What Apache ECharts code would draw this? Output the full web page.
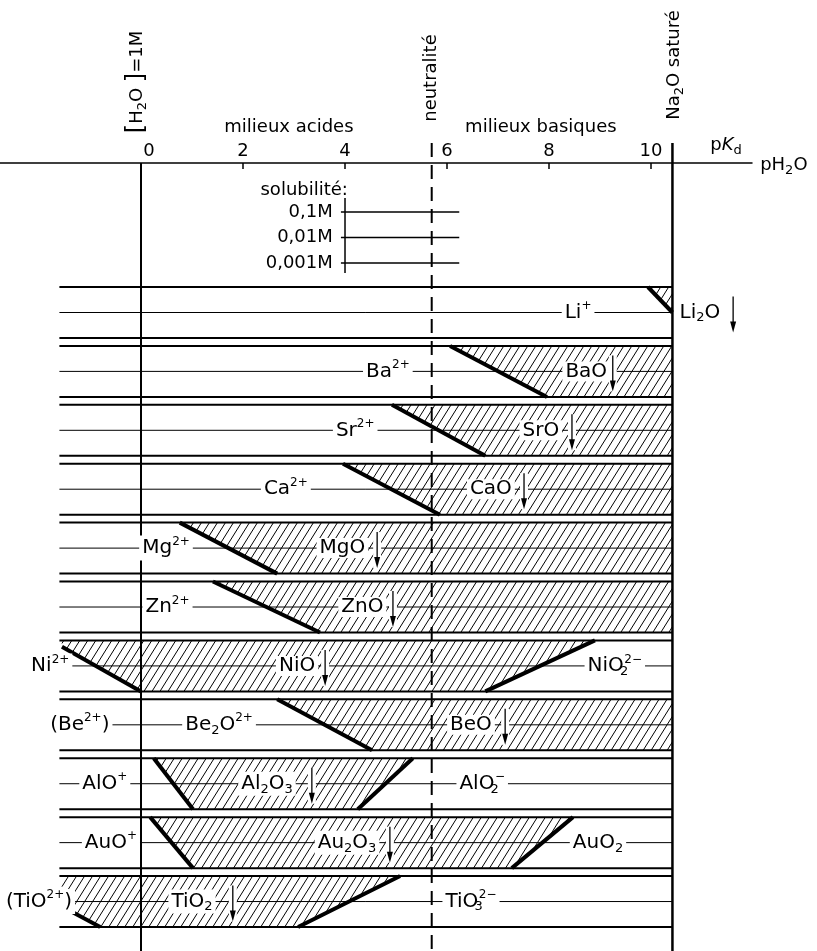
<!DOCTYPE html>
<html><head><meta charset="utf-8">
<script src="https://cdn.jsdelivr.net/npm/echarts@6/dist/echarts.min.js"></script>
<style>html,body{margin:0;padding:0;background:#fff}#c{width:817px;height:951px}</style>
</head><body><div id="c"></div>
<script>
// ---------------- data ----------------
const pHTicks = [0, 2, 4, 6, 8, 10];
const neutralityPH = 5.7;
const na2oSaturePH = 10.42;
const bandSpecies = ['Li', 'Ba', 'Sr', 'Ca', 'Mg', 'Zn', 'Ni', 'Be', 'Al', 'Au', 'Ti'];
// pH of acid-side precipitation boundary at 0.1 M (pC=1) and 0.001 M (pC=3)
const acidBoundary = [[9.94, 10.90], [6.06, 7.96], [4.92, 6.75], [3.96, 5.86], [0.76, 2.67], [1.41, 3.51],
  [-1.77, 0.0], [2.67, 4.53], [0.25, 1.02], [0.18, 1.02], [-2.66, -0.80]];
// pH of basic-side redissolution boundary at pC=1 and pC=3 (null = none)
const basicBoundary = [null, null, null, null, null, null, [8.90, 6.75], null, [5.33, 4.25], [8.47, 7.27], [5.08, 3.08]];
const solubilityLevels = ['0,1M', '0,01M', '0,001M'];
const keyRangePH = [4, 6.24];
// species labels: [band, pH centre, text]
const speciesLabels = [
  [0, 8.57, 'Li{sup|+}'], [0, 10.96, 'Li{sub|2}O'],
  [1, 4.84, 'Ba{sup|2+}'], [1, 8.73, 'BaO'],
  [2, 4.20, 'Sr{sup|2+}'], [2, 7.84, 'SrO'],
  [3, 2.84, 'Ca{sup|2+}'], [3, 6.86, 'CaO'],
  [4, 0.49, 'Mg{sup|2+}'], [4, 3.95, 'MgO'],
  [5, 0.52, 'Zn{sup|2+}'], [5, 4.34, 'ZnO'],
  [6, -1.78, 'Ni{sup|2+}'], [6, 3.06, 'NiO'], [6, 9.29, 'NiO{sb|2}{sup|2−}'],
  [7, -1.20, '(Be{sup|2+})'], [7, 1.53, 'Be{sub|2}O{sup|2+}'], [7, 6.47, 'BeO'],
  [8, -0.71, 'AlO{sup|+}'], [8, 2.47, 'Al{sub|2}O{sub|3}'], [8, 6.69, 'AlO{sb|2}{sup|−}'],
  [9, -0.59, 'AuO{sup|+}'], [9, 4.04, 'Au{sub|2}O{sub|3}'], [9, 8.96, 'AuO{sub|2}'],
  [10, -2.00, '(TiO{sup|2+})'], [10, 1.00, 'TiO{sub|2}'], [10, 6.47, 'TiO{sb|3}{sup|2−}']
];
// precipitate arrows: [band, pH]
const precipitateArrows = [[0, 11.61], [1, 9.25], [2, 8.45], [3, 7.51], [4, 4.63], [5, 4.94], [6, 3.61],
  [7, 7.14], [8, 3.35], [9, 4.88], [10, 1.80]];

// ---------------- layout ----------------
const FONT = 'DejaVu Sans';
const X_MIN = -2.7647, X_MAX = 11.98;
const Y_MIN = -4.863, Y_MAX = 26.04;
const BAND_PITCH = 2.31;
const KEY_Y0 = -2.94;
const LINE_LEFT = -1.6, HATCH_LEFT = -1.55;
const TOP_EXT = -5.647;
function bandY(k, pC) { return k * BAND_PITCH + (pC - 1); }

const RICH = {
  sup: { fontFamily: FONT, fontSize: 12, fill: '#000', padding: [0, 0, 13, 0] },
  sub: { fontFamily: FONT, fontSize: 13, fill: '#000', padding: [11, 0, 0, 0] },
  sb: { fontFamily: FONT, fontSize: 13, fill: '#000', padding: [11, 0, 0, 0], width: 0.5, align: 'left' },
  it: { fontFamily: FONT, fontSize: 18, fontStyle: 'italic', fill: '#000' },
  br: { fontFamily: FONT, fontSize: 24, fill: '#000' }
};

function clipPoly(poly, f) {
  const out = [];
  for (let i = 0; i < poly.length; i++) {
    const a = poly[i], b = poly[(i + 1) % poly.length];
    const fa = f(a), fb = f(b);
    if (fa >= 0) out.push(a);
    if ((fa >= 0) !== (fb >= 0)) {
      const t = fa / (fa - fb);
      out.push([a[0] + (b[0] - a[0]) * t, a[1] + (b[1] - a[1]) * t]);
    }
  }
  return out;
}
function lineX(b, pC) { return b[0] + (b[1] - b[0]) * (pC - 1) / 2; }
function solidPolygon(k) {
  let poly = [[HATCH_LEFT, 1], [na2oSaturePH, 1], [na2oSaturePH, 3], [HATCH_LEFT, 3]];
  const a = acidBoundary[k], b = basicBoundary[k];
  if (a) poly = clipPoly(poly, p => p[0] - lineX(a, p[1]));
  if (b) poly = clipPoly(poly, p => lineX(b, p[1]) - p[0]);
  return poly;
}
function clipSeg(b) {
  let t0 = 0, t1 = 1;
  const x0 = b[0], dx = b[1] - b[0];
  if (dx !== 0) {
    let ta = (HATCH_LEFT - x0) / dx, tb = (na2oSaturePH - x0) / dx;
    if (ta > tb) [ta, tb] = [tb, ta];
    t0 = Math.max(t0, ta); t1 = Math.min(t1, tb);
  }
  return [[x0 + dx * t0, 1 + 2 * t0], [x0 + dx * t1, 1 + 2 * t1]];
}
function hatchSegs(pts, spacing, ang) {
  const n = [Math.sin(ang), Math.cos(ang)];
  const cs = pts.map(p => p[0] * n[0] + p[1] * n[1]);
  const cmin = Math.min(...cs), cmax = Math.max(...cs);
  const segs = [];
  for (let k = Math.ceil(cmin / spacing); k * spacing <= cmax; k++) {
    const c = k * spacing, hits = [];
    for (let i = 0; i < pts.length; i++) {
      const j = (i + 1) % pts.length;
      const va = cs[i] - c, vb = cs[j] - c;
      if ((va < 0) !== (vb < 0)) {
        const t = va / (va - vb);
        hits.push([pts[i][0] + (pts[j][0] - pts[i][0]) * t, pts[i][1] + (pts[j][1] - pts[i][1]) * t]);
      }
    }
    if (hits.length >= 2) { hits.sort((p, q) => p[0] - q[0]); segs.push([hits[0], hits[hits.length - 1]]); }
  }
  return segs;
}
function ln(p, q, w, extra) {
  return Object.assign({ type: 'line', shape: { x1: p[0], y1: p[1], x2: q[0], y2: q[1] },
    style: { stroke: '#000', lineWidth: w, lineCap: 'butt' } }, extra || {});
}
function txt(p, text, opts) {
  return {
    type: 'text', x: p[0], y: p[1], rotation: opts.rotation || 0,
    style: Object.assign({ text, fill: '#000', fontFamily: FONT, fontSize: 18, align: 'center', verticalAlign: 'middle', rich: RICH }, opts.style || {})
  };
}

const idx = bandSpecies.map((s, i) => [0, i]);
const HATCH_ANGLE = 58 * Math.PI / 180, HATCH_STEP = 8 * Math.sin(HATCH_ANGLE);

const series = [
  { // band lines
    type: 'custom', z: 2, data: idx, silent: true,
    renderItem(params, api) {
      const k = params.dataIndex, ch = [];
      [[1, 2], [2, 1], [3, 2]].forEach(([pc, w]) => {
        ch.push(ln(api.coord([LINE_LEFT, bandY(k, pc)]), api.coord([na2oSaturePH, bandY(k, pc)]), w));
      });
      return { type: 'group', children: ch };
    }
  },
  { // hatched solid domains + thick boundaries
    type: 'custom', z: 3, data: idx, silent: true,
    renderItem(params, api) {
      const k = params.dataIndex, ch = [];
      const poly = solidPolygon(k).map(p => api.coord([p[0], bandY(k, p[1])]));
      hatchSegs(poly, HATCH_STEP, HATCH_ANGLE).forEach(s => ch.push(ln(s[0], s[1], 1)));
      [acidBoundary[k], basicBoundary[k]].forEach(b => {
        if (!b) return;
        const s = clipSeg(b);
        ch.push(ln(api.coord([s[0][0], bandY(k, s[0][1])]), api.coord([s[1][0], bandY(k, s[1][1])]), 4, { z2: 5 }));
      });
      return { type: 'group', children: ch };
    }
  },
  { // vertical reference lines
    type: 'custom', z: 5, data: [[0, 0]], silent: true,
    renderItem(params, api) {
      return { type: 'group', children: [
        ln(api.coord([0, Y_MIN]), api.coord([0, Y_MAX]), 2),
        ln(api.coord([neutralityPH, TOP_EXT]), api.coord([neutralityPH, Y_MAX]), 2, { style: { stroke: '#000', lineWidth: 2, lineDash: [14, 8] } }),
        ln(api.coord([na2oSaturePH, TOP_EXT]), api.coord([na2oSaturePH, Y_MAX]), 2.5)
      ] };
    }
  },
  { // solubility key
    type: 'custom', z: 5, data: [[0, 0]], silent: true,
    renderItem(params, api) {
      const ch = [];
      ch.push(ln(api.coord([keyRangePH[0], -3.49]), api.coord([keyRangePH[0], -0.55]), 1.5));
      solubilityLevels.forEach((s, i) => {
        const y = KEY_Y0 + i;
        ch.push(ln(api.coord([keyRangePH[0] - 0.08, y]), api.coord([keyRangePH[1], y]), 1.5));
        ch.push(txt(api.coord([3.76, y]), s, { style: { align: 'right' } }));
      });
      ch.push(txt(api.coord([3.2, -3.80]), 'solubilité:', {}));
      return { type: 'group', children: ch };
    }
  },
  { // arrows
    type: 'custom', z: 6, data: precipitateArrows.map(a => [a[1], a[0]]), silent: true,
    renderItem(params, api) {
      const a = precipitateArrows[params.dataIndex];
      const c = api.coord([a[1], bandY(a[0], 2)]);
      const x = c[0], y = c[1];
      return { type: 'group', children: [
        { type: 'rect', shape: { x: x - 4, y: y - 16, width: 8, height: 36 }, style: { fill: '#fff' } },
        ln([x, y - 16], [x, y + 12], 1.3),
        { type: 'polygon', shape: { points: [[x - 3, y + 9], [x + 3, y + 9], [x, y + 20]] }, style: { fill: '#000' } }
      ] };
    }
  },
  { // species labels
    type: 'custom', z: 7, data: speciesLabels.map(l => [l[1], l[0]]), silent: true,
    renderItem(params, api) {
      const l = speciesLabels[params.dataIndex];
      return txt(api.coord([l[1], bandY(l[0], 2)]), l[2], { style: { fontSize: 20, backgroundColor: '#fff', padding: [0, 3] } });
    }
  },
  { // header annotations
    type: 'custom', z: 7, data: [[0, 0]], silent: true,
    renderItem(params, api) {
      return { type: 'group', children: [
        txt(api.coord([2.9, -6.275]), 'milieux acides', {}),
        txt(api.coord([7.84, -6.275]), 'milieux basiques', {}),
        txt(api.coord([11.47, -5.57]), 'p{it|K}{sub|d}', {}),
        txt(api.coord([12.14, -4.78]), 'pH{sub|2}O', { style: { align: 'left' } }),
        txt(api.coord([5.69, -8.196]), 'neutralité', { rotation: Math.PI / 2 }),
        txt(api.coord([10.45, -8.706]), 'Na{sub|2}O saturé', { rotation: Math.PI / 2 }),
        txt(api.coord([-0.08, -8.04]), '{br|[}H{sub|2}O {br|]}=1M', { rotation: Math.PI / 2 })
      ] };
    }
  }
];

const option = {
  animation: false,
  backgroundColor: '#fff',
  grid: { left: 0, top: 163, width: 752, bottom: 0, containLabel: false },
  xAxis: {
    type: 'value', position: 'top', min: X_MIN, max: X_MAX,
    axisLine: { show: true, onZero: false, lineStyle: { color: '#000', width: 1.5 } },
    axisTick: { show: true, inside: true, length: 6, customValues: pHTicks, lineStyle: { color: '#000', width: 1.5 } },
    axisLabel: {
      show: true, customValues: pHTicks, margin: 3, color: '#000', fontFamily: FONT, fontSize: 18,
      formatter: v => v === 0 ? '{z|0}' : '{n|' + v + '}',
      rich: { z: { fontFamily: FONT, fontSize: 18, color: '#000', padding: [0, 0, 0, 16] }, n: { fontFamily: FONT, fontSize: 18, color: '#000' } }
    },
    splitLine: { show: false }
  },
  yAxis: { type: 'value', inverse: true, min: Y_MIN, max: Y_MAX, show: false, splitLine: { show: false } },
  series
};
const chart = echarts.init(document.getElementById('c'), null, { renderer: 'canvas', width: 817, height: 951 });
chart.setOption(option);
</script>
</body></html>
